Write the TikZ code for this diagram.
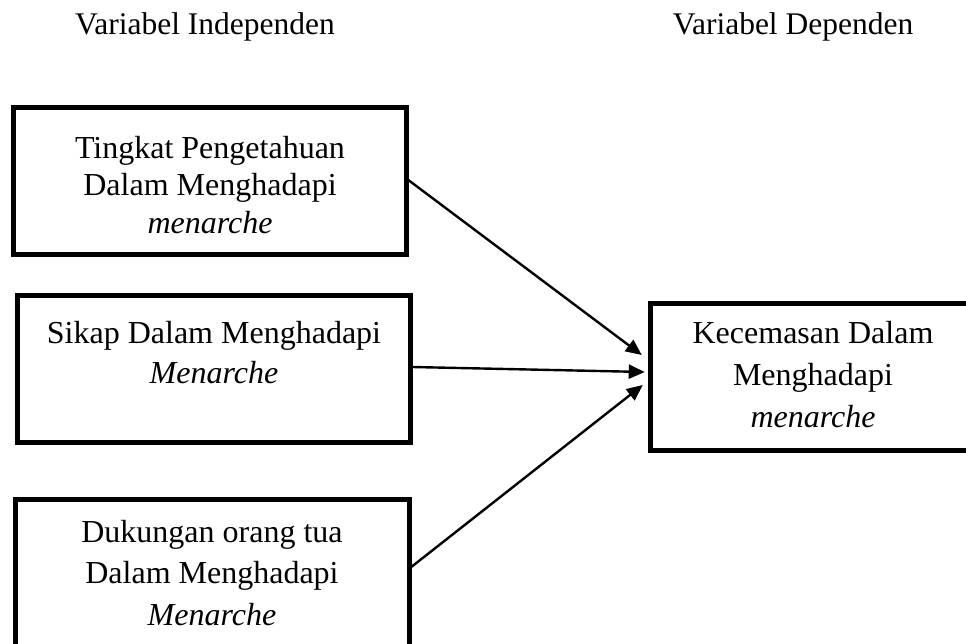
\documentclass[tikz,border=0pt]{standalone}
\usepackage{fontspec}
\setmainfont{Liberation Serif}
\usetikzlibrary{arrows.meta,calc}
\begin{document}
\begin{tikzpicture}[x=1pt,y=-1pt,
  box/.style={draw,line width=5.5pt,rectangle,inner sep=0pt},
  label/.style={align=center,inner sep=0pt,anchor=north},
  conn/.style={line width=2.4pt,-{Triangle[length=16pt,width=14pt]}}]
\useasboundingbox (0,0) rectangle (966,644);
\clip (0,0) rectangle (966,644);
% titles
\node[anchor=base,inner sep=0pt,font=\fontsize{31.5}{37}\selectfont] (tind) at (205,35) {Variabel Independen};
\node[anchor=base,inner sep=0pt,font=\fontsize{31.5}{37}\selectfont] (tdep) at (793,35) {Variabel Dependen};
% boxes
\node[box,minimum width=393pt,minimum height=147pt] (b1) at (210,181) {};
\node[box,minimum width=393pt,minimum height=147pt] (b2) at (214,369) {};
\node[box,minimum width=394pt,minimum height=165pt] (b3) at (212.5,582) {};
\node[box,minimum width=327pt,minimum height=147pt] (r) at (814,377) {};
% texts
\node[label,font=\fontsize{32}{37.5}\selectfont] (l1) at (210,131.75) {\strut Tingkat Pengetahuan\\Dalam Menghadapi\\\textit{menarche}};
\node[label,font=\fontsize{32}{40}\selectfont] (l2) at (214,315) {\strut Sikap Dalam Menghadapi\\\textit{Menarche}};
\node[label,font=\fontsize{32}{41.5}\selectfont] (l3) at (212,512.95) {\strut Dukungan orang tua\\Dalam Menghadapi\\\textit{Menarche}};
\node[label,font=\fontsize{32}{42}\selectfont] (lr) at (813,313.6) {\strut Kecemasan Dalam\\Menghadapi\\\textit{menarche}};
% connector ends
\coordinate (s1) at ($(b1.east)+(-1,-1)$);
\coordinate (s2) at ($(b2.east)+(-1,-2)$);
\coordinate (s3) at ($(b3.east)+(-1,-15)$);
\coordinate (e1) at ($(r.west)+(-6,-22)$);
\coordinate (e2) at ($(r.west)+(-3,-5)$);
\coordinate (e3) at ($(r.west)+(-5,8)$);
\draw[conn] (s1) -- (e1);
\draw[conn] (s2) -- (e2);
\draw[conn] (s3) -- (e3);
\end{tikzpicture}
\end{document}
